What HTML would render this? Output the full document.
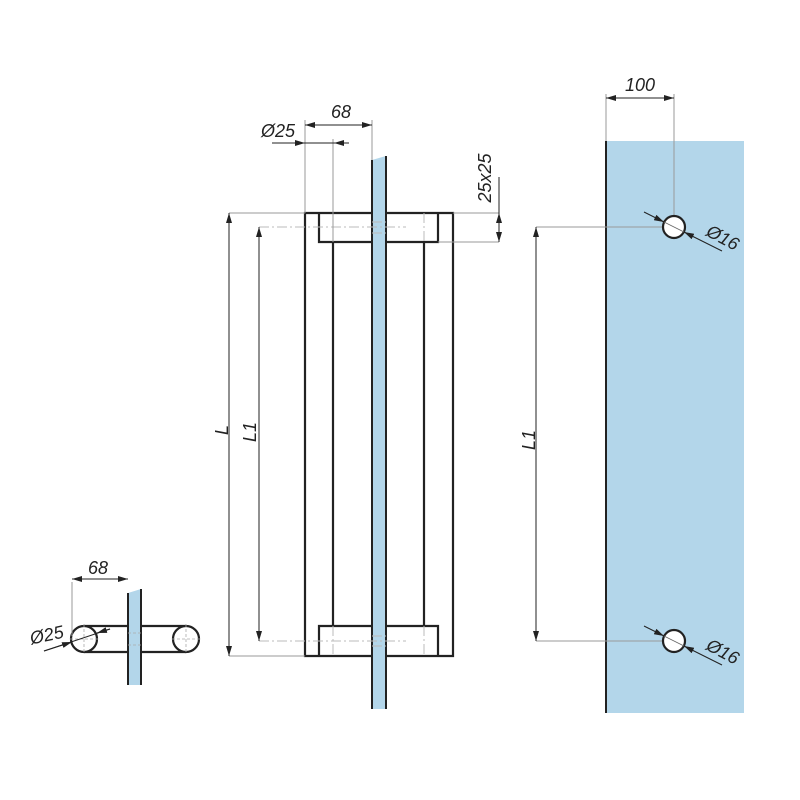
<!DOCTYPE html>
<html><head><meta charset="utf-8"><style>
html,body{margin:0;padding:0;background:#fff;}
svg{display:block;}
text{font-family:"Liberation Sans",sans-serif;font-style:italic;fill:#222;font-size:18px;}
</style></head><body>
<svg width="800" height="800" viewBox="0 0 800 800" xmlns="http://www.w3.org/2000/svg">
<defs>
<marker id="a" viewBox="0 0 10 6" refX="10" refY="3" markerWidth="10" markerHeight="6" orient="auto-start-reverse" markerUnits="userSpaceOnUse"><path d="M0,0 L10,3 L0,6 z" fill="#222"/></marker>
</defs>

<!-- ===== Middle view ===== -->
<path d="M372,160 L386,156 L386,709 L372,709 Z" fill="#b3d6ea"/>
<line x1="372" y1="160" x2="372" y2="709" stroke="#222" stroke-width="2"/>
<line x1="386" y1="156" x2="386" y2="709" stroke="#222" stroke-width="2"/>
<g stroke="#222" stroke-width="2.2" fill="none">
<path d="M372,213 L305,213 L305,656 L372,656"/>
<path d="M386,213 L453,213 L453,656 L386,656"/>
<path d="M372,242 L319,242 L319,213"/>
<path d="M386,242 L438,242 L438,213"/>
<path d="M372,626 L319,626 L319,656"/>
<path d="M386,626 L438,626 L438,656"/>
<line x1="333" y1="242" x2="333" y2="626"/>
<line x1="424" y1="242" x2="424" y2="626"/>
</g>
<g stroke="#bbb" stroke-width="1" stroke-dasharray="10,3,2,3" fill="none">
<line x1="259" y1="227" x2="406" y2="227"/>
<line x1="259" y1="641" x2="406" y2="641"/>
<line x1="333" y1="213" x2="333" y2="242"/>
<line x1="424" y1="213" x2="424" y2="242"/>
<line x1="333" y1="626" x2="333" y2="656"/>
<line x1="424" y1="626" x2="424" y2="656"/>
<line x1="372" y1="222" x2="386" y2="222"/>
<line x1="372" y1="233" x2="386" y2="233"/>
<line x1="372" y1="636" x2="386" y2="636"/>
<line x1="372" y1="646" x2="386" y2="646"/>
</g>
<g stroke="#999" stroke-width="1">
<line x1="229" y1="213" x2="305" y2="213"/>
<line x1="229" y1="656" x2="305" y2="656"/>
<line x1="305" y1="120" x2="305" y2="213"/>
<line x1="333" y1="139" x2="333" y2="242"/>
<line x1="372" y1="120" x2="372" y2="160"/>
<line x1="453" y1="213" x2="499" y2="213"/>
<line x1="438" y1="242" x2="499" y2="242"/>
</g>
<g stroke="#222" stroke-width="1" fill="none">
<line x1="229" y1="213" x2="229" y2="656" marker-start="url(#a)" marker-end="url(#a)"/>
<line x1="259" y1="227" x2="259" y2="641" marker-start="url(#a)" marker-end="url(#a)"/>
<line x1="305" y1="125" x2="372" y2="125" marker-start="url(#a)" marker-end="url(#a)"/>
<line x1="272" y1="143" x2="349" y2="143"/>
<line x1="272" y1="143" x2="305" y2="143" marker-end="url(#a)"/>
<line x1="349" y1="143" x2="334" y2="143" marker-end="url(#a)"/>
<line x1="499" y1="177" x2="499" y2="213"/>
<line x1="499" y1="213" x2="499" y2="242" marker-start="url(#a)" marker-end="url(#a)"/>
</g>
<text x="341" y="118" text-anchor="middle">68</text>
<text x="278" y="137" text-anchor="middle">Ø25</text>
<text transform="translate(491,178) rotate(-90)" text-anchor="middle">25x25</text>
<text transform="translate(228,430) rotate(-90)" text-anchor="middle">L</text>
<text transform="translate(256,432) rotate(-90)" text-anchor="middle">L1</text>

<!-- ===== Right view ===== -->
<rect x="606" y="141" width="138" height="572" fill="#b3d6ea"/>
<line x1="606" y1="141" x2="606" y2="713" stroke="#222" stroke-width="2"/>
<g stroke="#999" stroke-width="1">
<line x1="606" y1="94" x2="606" y2="141"/>
<line x1="674" y1="94" x2="674" y2="227"/>
<line x1="536" y1="227" x2="674" y2="227"/>
<line x1="536" y1="641" x2="674" y2="641"/>
</g>
<g stroke="#222" stroke-width="1" fill="none">
<line x1="606" y1="98" x2="674" y2="98" marker-start="url(#a)" marker-end="url(#a)"/>
<line x1="536" y1="227" x2="536" y2="641" marker-start="url(#a)" marker-end="url(#a)"/>
<line x1="644" y1="212" x2="664" y2="222" marker-end="url(#a)"/>
<line x1="722" y1="251" x2="684" y2="232" marker-end="url(#a)"/>
<line x1="644" y1="626" x2="664" y2="636" marker-end="url(#a)"/>
<line x1="722" y1="665" x2="684" y2="646" marker-end="url(#a)"/>
</g>
<circle cx="674" cy="227" r="11" fill="#fff" stroke="#222" stroke-width="2.2"/>
<circle cx="674" cy="641" r="11" fill="#fff" stroke="#222" stroke-width="2.2"/>
<line x1="664" y1="222" x2="684" y2="232" stroke="#666" stroke-width="0.8"/>
<line x1="664" y1="636" x2="684" y2="646" stroke="#666" stroke-width="0.8"/>
<text x="640" y="91" text-anchor="middle">100</text>
<text transform="translate(720,243) rotate(28)" text-anchor="middle">Ø16</text>
<text transform="translate(720,657) rotate(28)" text-anchor="middle">Ø16</text>
<text transform="translate(535,440) rotate(-90)" text-anchor="middle">L1</text>

<!-- ===== Left small view ===== -->
<path d="M128,593 L141,589 L141,685 L128,685 Z" fill="#b3d6ea"/>
<line x1="128" y1="593" x2="128" y2="685" stroke="#222" stroke-width="2"/>
<line x1="141" y1="589" x2="141" y2="685" stroke="#222" stroke-width="2"/>
<g stroke="#222" stroke-width="2.2" fill="none">
<line x1="84" y1="626" x2="128" y2="626"/>
<line x1="84" y1="652" x2="128" y2="652"/>
<line x1="141" y1="626" x2="186" y2="626"/>
<line x1="141" y1="652" x2="186" y2="652"/>
</g>
<circle cx="84" cy="639" r="13" fill="#fff" stroke="#222" stroke-width="2.2"/>
<circle cx="186" cy="639" r="13" fill="#fff" stroke="#222" stroke-width="2.2"/>
<g stroke="#aaa" stroke-width="0.8" stroke-dasharray="3,2">
<line x1="70" y1="639" x2="100" y2="639"/>
<line x1="84" y1="624" x2="84" y2="654"/>
<line x1="172" y1="639" x2="202" y2="639"/>
<line x1="186" y1="624" x2="186" y2="654"/>
<line x1="128" y1="633" x2="141" y2="633"/>
<line x1="128" y1="645" x2="141" y2="645"/>
</g>
<line x1="72" y1="582" x2="72" y2="636" stroke="#999" stroke-width="1"/>
<line x1="72" y1="579" x2="128" y2="579" stroke="#222" stroke-width="1" marker-start="url(#a)" marker-end="url(#a)"/>
<g stroke="#222" stroke-width="1" fill="none">
<line x1="44" y1="651" x2="110" y2="629"/>
<line x1="44" y1="651" x2="72" y2="642" marker-end="url(#a)"/>
<line x1="110" y1="629" x2="97" y2="633" marker-end="url(#a)"/>
</g>
<text x="98" y="574" text-anchor="middle">68</text>
<text transform="translate(48,641) rotate(-12)" text-anchor="middle">Ø25</text>
</svg>
</body></html>
